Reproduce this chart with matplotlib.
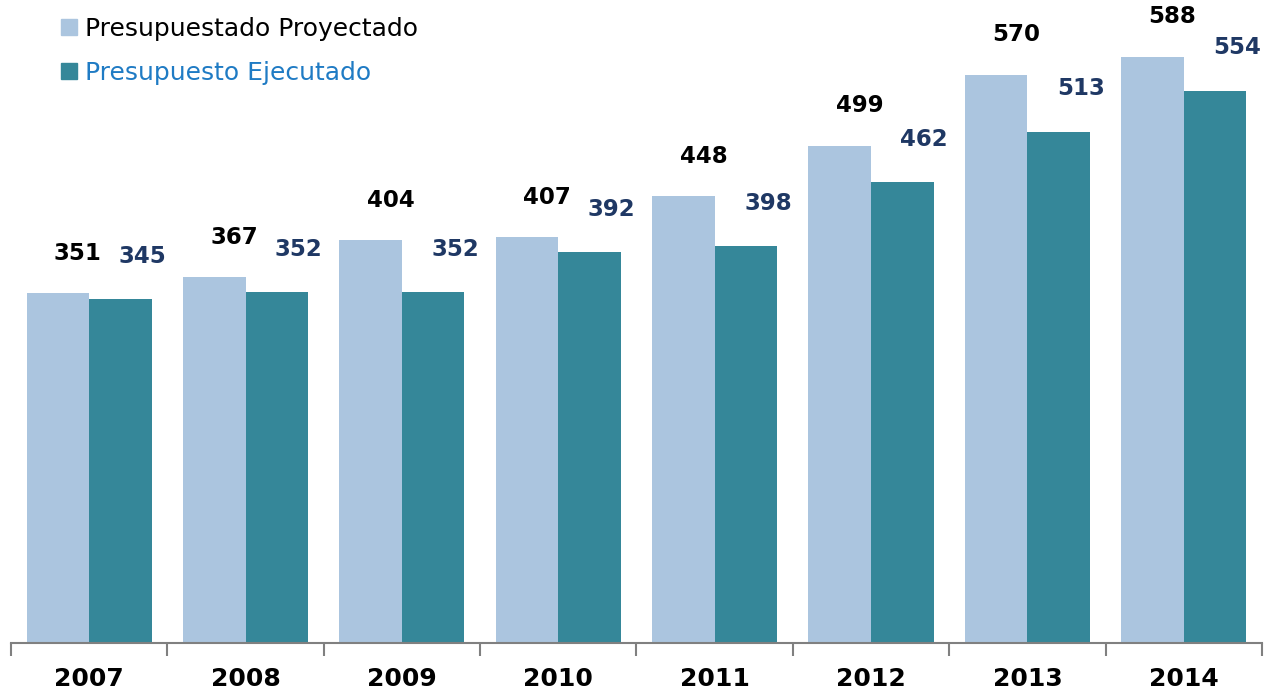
import numpy as np
import matplotlib
matplotlib.use('Agg')
import matplotlib.pyplot as plt
from matplotlib.patches import Patch

years = ['2007', '2008', '2009', '2010', '2011', '2012', '2013', '2014']
proyectado = [351, 367, 404, 407, 448, 499, 570, 588]
ejecutado = [345, 352, 352, 392, 398, 462, 513, 554]

c_proy = '#abc5df'
c_ejec = '#358799'
c_lab_ejec = '#1f3864'

fig = plt.figure(figsize=(12.66, 6.93), dpi=100)
ax = fig.add_axes([0.0087, 0.0722, 0.9881, 0.9278])

x = np.arange(len(years))
w = 0.4
ax.bar(x - w/2, proyectado, w, color=c_proy, edgecolor='none')
ax.bar(x + w/2, ejecutado, w, color=c_ejec, edgecolor='none')

for i in range(len(years)):
    ax.annotate(str(proyectado[i]), (x[i] - w/2, proyectado[i]), xytext=(20, 40),
                textcoords='offset pixels', ha='center', va='center',
                fontsize=16.5, fontweight='bold', color='black')
    ax.annotate(str(ejecutado[i]), (x[i] + w/2, ejecutado[i]), xytext=(22, 43),
                textcoords='offset pixels', ha='center', va='center',
                fontsize=16.5, fontweight='bold', color=c_lab_ejec)

ax.set_xlim(-0.5, len(years) - 0.5)
ax.set_ylim(0, 645)
for s in ['top', 'right', 'left']:
    ax.spines[s].set_visible(False)
ax.spines['bottom'].set_color('#808080')
ax.spines['bottom'].set_linewidth(1.5)
ax.set_yticks([])

ax.set_xticks(x)
ax.set_xticklabels(years, fontsize=18, fontweight='bold')
ax.tick_params(axis='x', which='major', length=0, pad=17)
ax.set_xticks(np.arange(-0.5, len(years), 1), minor=True)
ax.tick_params(axis='x', which='minor', length=9, width=1.5, color='#808080')

handles = [Patch(color=c_proy), Patch(color=c_ejec)]
leg = ax.legend(handles, ['Presupuestado Proyectado', 'Presupuesto Ejecutado'],
                loc='upper left', bbox_to_anchor=(0.022, 1.009), frameon=False,
                fontsize=18, handlelength=0.65, handleheight=0.65,
                handletextpad=0.3, labelspacing=0.8)
leg.get_texts()[0].set_color('black')
leg.get_texts()[1].set_color('#1f7bc4')

fig.savefig('out.png', dpi=100)
